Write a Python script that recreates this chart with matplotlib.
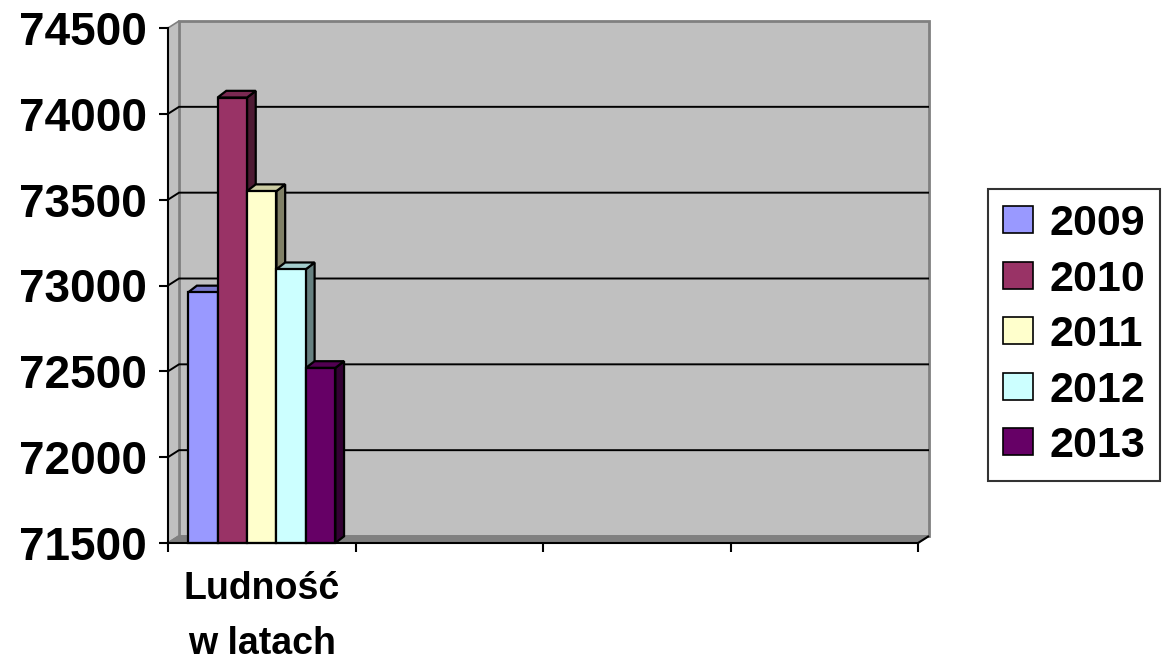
import matplotlib
matplotlib.use('Agg')
import matplotlib.pyplot as plt
from matplotlib.patches import Polygon, Patch
from matplotlib.lines import Line2D
from matplotlib.transforms import IdentityTransform
from matplotlib.colors import to_rgb

# Data
categories = ['Ludność\nw latach', '', '', '']
years = ['2009', '2010', '2011', '2012', '2013']
ludnosc = [72960, 74095, 73550, 73095, 72520]
colors = ['#9999FF', '#993366', '#FFFFCC', '#CCFFFF', '#660066']
y_ticks = [71500, 72000, 72500, 73000, 73500, 74000, 74500]

# Look of the fake 3D Excel chart (in pixels)
WALL_DX, WALL_DY = 11, 7
BAR_DX, BAR_DY = 8.7, 6.7
BAR_W = 0.157
FONT = 'Liberation Sans'

plt.rcParams['font.family'] = [FONT, 'DejaVu Sans']
plt.rcParams['font.weight'] = 'bold'

W, H = 1167, 666
fig = plt.figure(figsize=(W / 100, H / 100), dpi=100)
ax = fig.add_axes([168 / W, 1 - 543 / H, (918 - 168) / W, (543 - 28) / H])
ax.set_xlim(0, len(categories))
ax.set_ylim(y_ticks[0], y_ticks[-1])
ax.patch.set_visible(False)
for s in ['top', 'right']:
    ax.spines[s].set_visible(False)
for s in ['left', 'bottom']:
    ax.spines[s].set_linewidth(1.5)
    ax.spines[s].set_zorder(6)

ymin, ymax = y_ticks[0], y_ticks[-1]
xmax = len(categories)


def px(x, y, dx=0.0, dy=0.0):
    X, Y = ax.transData.transform((x, y))
    return (X + dx, Y + dy)


def poly(points, fc, ec, lw, z):
    p = Polygon(points, closed=True, facecolor=fc, edgecolor=ec, linewidth=lw,
                transform=IdentityTransform(), clip_on=False, zorder=z,
                joinstyle='miter')
    ax.add_patch(p)


def line(points, color, lw, z):
    xs = [p[0] for p in points]
    ys = [p[1] for p in points]
    ax.add_line(Line2D(xs, ys, color=color, linewidth=lw, transform=IdentityTransform(),
                       clip_on=False, zorder=z, solid_capstyle='butt'))


# back wall
poly([px(0, ymin, WALL_DX, WALL_DY), px(xmax, ymin, WALL_DX, WALL_DY),
      px(xmax, ymax, WALL_DX, WALL_DY), px(0, ymax, WALL_DX, WALL_DY)],
     '#C0C0C0', '#808080', 2.0, 1)
# left wall
poly([px(0, ymin), px(0, ymax), px(0, ymax, WALL_DX, WALL_DY), px(0, ymin, WALL_DX, WALL_DY)],
     '#C0C0C0', '#808080', 1.2, 1)
# floor
poly([px(0, ymin), px(xmax, ymin), px(xmax, ymin, WALL_DX, WALL_DY), px(0, ymin, WALL_DX, WALL_DY)],
     '#808080', '#808080', 1.0, 2)
line([px(xmax, ymin), px(xmax, ymin, WALL_DX, WALL_DY)], 'black', 1.5, 5)

# gridlines on the walls
for v in y_ticks[1:-1]:
    line([px(0, v), px(0, v, WALL_DX, WALL_DY), px(xmax, v, WALL_DX, WALL_DY)], 'black', 1.4, 2)
line([px(0, ymin), px(0, ymin, WALL_DX, WALL_DY)], '#808080', 1.4, 2)

# bars
start = 0.5 - BAR_W * len(years) / 2
for i, (val, col) in enumerate(zip(ludnosc, colors)):
    x0 = start + i * BAR_W
    x1 = x0 + BAR_W
    r, g, b = to_rgb(col)
    top_c = (r * 0.8, g * 0.8, b * 0.8)
    side_c = (r * 0.5, g * 0.5, b * 0.5)
    poly([px(x1, ymin), px(x1, val), px(x1, val, BAR_DX, BAR_DY), px(x1, ymin, BAR_DX, BAR_DY)],
         side_c, 'black', 1.6, 3 + i * 0.01)
    poly([px(x0, val), px(x1, val), px(x1, val, BAR_DX, BAR_DY), px(x0, val, BAR_DX, BAR_DY)],
         top_c, 'black', 1.6, 3 + i * 0.01)
    poly([px(x0, ymin), px(x1, ymin), px(x1, val), px(x0, val)],
         col, 'black', 1.6, 3.005 + i * 0.01)

# axes ticks and labels
ax.set_yticks(y_ticks)
ax.set_yticklabels([str(v) for v in y_ticks], fontsize=33, fontweight='bold')
ax.tick_params(axis='y', direction='out', length=6.5, width=1.5, pad=8.5, colors='black')
ax.set_xticks(range(len(categories) + 1))
ax.set_xticklabels([])
ax.tick_params(axis='x', which='major', direction='out', length=6.5, width=1.5)
ax.set_xticks([i + 0.5 for i in range(len(categories))], minor=True)
ax.set_xticklabels(categories, minor=True, fontsize=27, fontweight='bold', linespacing=1.7)
ax.tick_params(axis='x', which='minor', length=0, pad=20)

# legend
handles = [Patch(facecolor=c, edgecolor='black', linewidth=1.2) for c in colors]
leg = fig.legend(handles, years, loc='center left', bbox_to_anchor=(988 / W, 1 - 335 / H),
                 prop={'family': FONT, 'weight': 'bold', 'size': 31},
                 fancybox=False, frameon=True, handlelength=0.7, handleheight=0.6,
                 handletextpad=0.38, labelspacing=0.36, borderpad=0.34, borderaxespad=0)
leg.get_frame().set_edgecolor('black')
leg.get_frame().set_linewidth(1.5)

fig.savefig('out.png', dpi=100, facecolor='white')
